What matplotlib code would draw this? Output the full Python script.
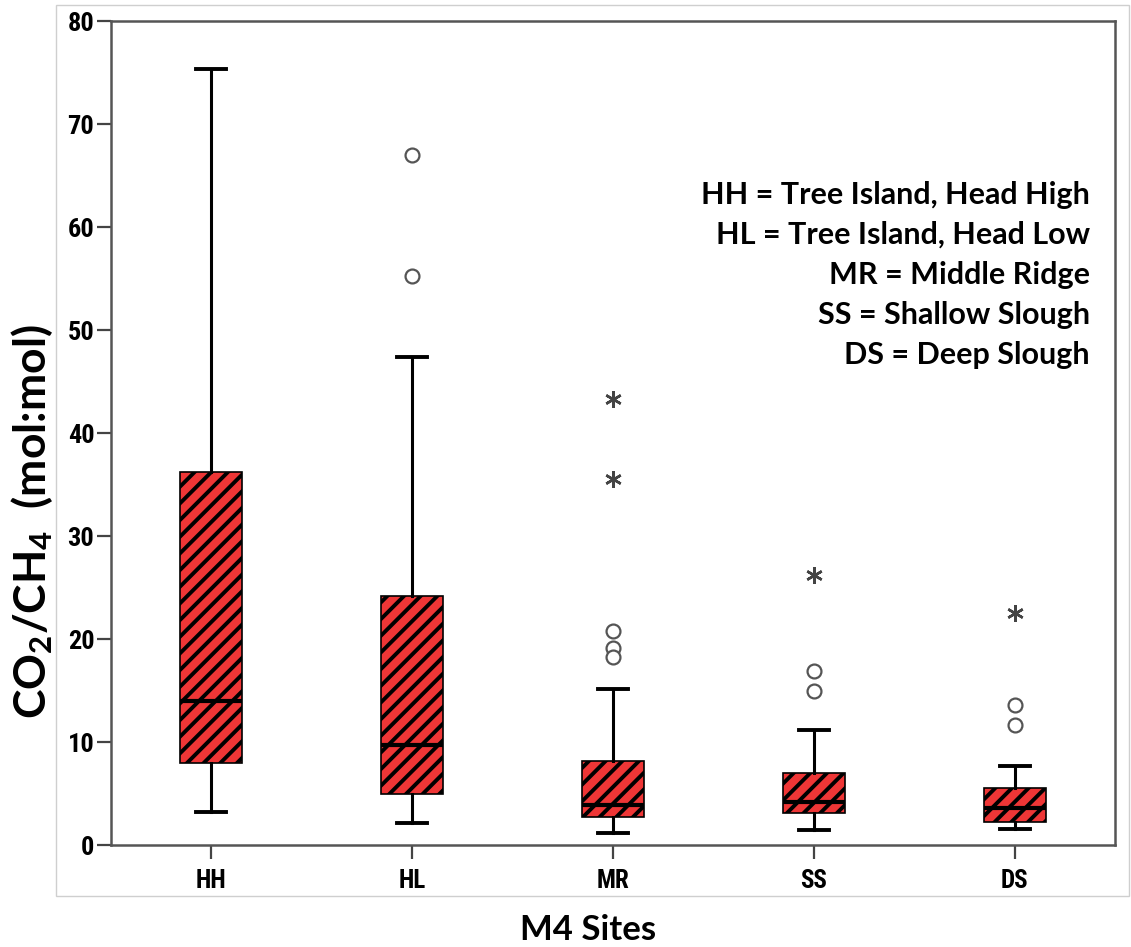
import matplotlib
matplotlib.use("Agg")
import matplotlib.pyplot as plt
from matplotlib import font_manager
from matplotlib.patches import Rectangle

# ---- data -------------------------------------------------------------
sites = ["HH", "HL", "MR", "SS", "DS"]
whisker_low = [3.2, 2.1, 1.2, 1.5, 1.6]
q1 = [8.0, 5.0, 2.7, 3.1, 2.2]
median = [14.0, 9.7, 3.9, 4.2, 3.6]
q3 = [36.2, 24.2, 8.2, 7.0, 5.5]
whisker_high = [75.3, 47.4, 15.1, 11.2, 7.7]
# mild outliers (circles) and extreme outliers (asterisks) per site
outliers_mild = [[], [67.0, 55.2], [20.8, 19.1, 18.3], [16.9, 15.0], [13.6, 11.7]]
outliers_extreme = [[], [], [43.3, 35.5], [26.2], [22.5]]
y_ticks = [0, 10, 20, 30, 40, 50, 60, 70, 80]
legend_lines = [
    "HH = Tree Island, Head High",
    "HL = Tree Island, Head Low",
    "MR = Middle Ridge",
    "SS = Shallow Slough",
    "DS = Deep Slough",
]

# ---- fonts ------------------------------------------------------------
names = {f.name for f in font_manager.fontManager.ttflist}
narrow = None
for cand in ["Liberation Sans Narrow", "Roboto Condensed", "Open Sans Condensed"]:
    if cand in names:
        narrow = cand
        break
tick_font = dict(family=narrow if narrow else "DejaVu Sans",
                 weight="bold",
                 stretch="normal" if narrow else "condensed")
label_family = "Lato" if "Lato" in names else "DejaVu Sans"

plt.rcParams["mathtext.fontset"] = "custom"
plt.rcParams["mathtext.rm"] = f"{label_family}:bold"
plt.rcParams["mathtext.it"] = f"{label_family}:bold"
plt.rcParams["mathtext.bf"] = f"{label_family}:bold"
plt.rcParams["mathtext.default"] = "rm"
plt.rcParams["hatch.linewidth"] = 2.8
plt.rcParams["hatch.color"] = "black"

# ---- figure -----------------------------------------------------------
fig = plt.figure(figsize=(11.31, 9.47), dpi=100)
ax = fig.add_axes([0.0981, 0.1077, 0.8878, 0.8701])

# light frame around the plot region
fig.patches.append(Rectangle((56 / 1131, 1 - 896 / 947), (1129 - 56) / 1131,
                             (896 - 5) / 947, transform=fig.transFigure,
                             fill=False, edgecolor="#cfcfcf", linewidth=1.0))

stats = []
for i, s in enumerate(sites):
    stats.append(dict(label=s, whislo=whisker_low[i], q1=q1[i], med=median[i],
                      q3=q3[i], whishi=whisker_high[i], fliers=[]))

positions = list(range(1, len(sites) + 1))
bp = ax.bxp(stats, positions=positions, widths=0.31, patch_artist=True,
            showfliers=False, capwidths=0.15,
            boxprops=dict(facecolor="#EE3636", edgecolor="black", linewidth=1.2),
            medianprops=dict(color="black", linewidth=3.0, solid_capstyle="butt"),
            whiskerprops=dict(color="black", linewidth=2.2),
            capprops=dict(color="black", linewidth=2.8))
for box in bp["boxes"]:
    box.set_hatch("//")

for pos, vals in zip(positions, outliers_mild):
    if vals:
        ax.plot([pos] * len(vals), vals, linestyle="none", marker="o",
                markersize=10, markerfacecolor="white",
                markeredgecolor="#555555", markeredgewidth=1.6, zorder=4)
for pos, vals in zip(positions, outliers_extreme):
    if vals:
        ax.plot([pos] * len(vals), vals, linestyle="none", marker=(6, 2, 0),
                markersize=12, markeredgecolor="#444444",
                markeredgewidth=1.8, zorder=4)

ax.set_xlim(0.5, 5.5)
ax.set_ylim(0, 80)
ax.set_yticks(y_ticks)
ax.set_yticklabels([str(v) for v in y_ticks], **tick_font, fontsize=19)
ax.set_xticks(positions)
ax.set_xticklabels(sites, **tick_font, fontsize=18)
ax.tick_params(axis="both", direction="out", length=10, width=1.6,
               color="#444444", pad=2)
ax.tick_params(axis="x", pad=7)
for sp in ax.spines.values():
    sp.set_color("#555555")
    sp.set_linewidth(1.8)

fig.text(32 / 1131, 1 - 522 / 947, r"CO$_2$/CH$_4$  (mol:mol)", rotation=90,
         ha="center", va="center", fontsize=32, fontweight="bold",
         family=label_family)
fig.text(588 / 1131, 1 - 930 / 947, "M4 Sites", ha="center", va="center",
         fontsize=25, fontweight="bold", family=label_family)

for k, line in enumerate(legend_lines):
    fig.text(1090 / 1131, 1 - (195 + 40 * k) / 947, line, ha="right",
             va="center", fontsize=22, fontweight="bold", family=label_family)

fig.savefig("out.png", dpi=100)
